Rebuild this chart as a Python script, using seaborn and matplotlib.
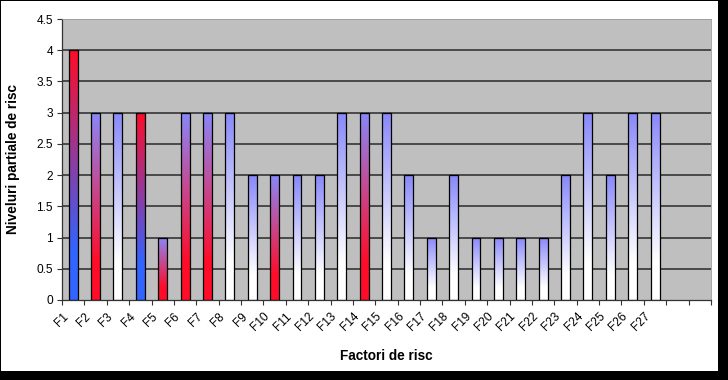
import numpy as np
import pandas as pd
import matplotlib
matplotlib.use("Agg")
import matplotlib.pyplot as plt
from matplotlib.patches import Rectangle
from matplotlib.transforms import ScaledTranslation
import seaborn as sns

# ---- data ----
factors = ["F%d" % i for i in range(1, 28)]
levels = [4, 3, 3, 3, 1, 3, 3, 3, 2, 2, 2, 2, 3, 3, 3, 2, 1, 2, 1, 1, 1, 1, 2, 3, 2, 3, 3]
# gradient style per factor: rb = red->blue, lr = lavender->red, lw = lavender->white
fills = ["rb", "lr", "lw", "rb", "lr", "lr", "lr", "lw", "lw", "lr", "lw", "lw", "lw", "lr",
         "lw", "lw", "lw", "lw", "lw", "lw", "lw", "lw", "lw", "lw", "lw", "lw", "lw"]
yticks = [0, 0.5, 1, 1.5, 2, 2.5, 3, 3.5, 4, 4.5]
ytick_labels = ["0", "0.5", "1", "1.5", "2", "2.5", "3", "3.5", "4", "4.5"]
xlabel = "Factori de risc"
ylabel = "Niveluri partiale de risc"

df = pd.DataFrame({"factor": factors, "level": levels})

sns.set_theme(style="white")
plt.rcParams["font.family"] = ["Liberation Sans", "DejaVu Sans"]

W, H = 728, 380
fig = plt.figure(figsize=(W / 100, H / 100), dpi=100)
fig.patch.set_facecolor("black")
bg = Rectangle((1 / W, 1 - 371 / H), 717 / W, 370 / H,
               transform=fig.transFigure, facecolor="white",
               edgecolor="none", zorder=-10)
fig.add_artist(bg)

ax = fig.add_axes([62 / W, 1 - 300 / H, (711 - 62) / W, (300 - 19) / H])
ax.set_zorder(1)
ax.set_facecolor("#BFBFBF")

sns.barplot(data=df, x="factor", y="level", ax=ax, width=0.4, color="white",
            edgecolor="black", linewidth=0.9, zorder=3)

C = {
    "red": np.array([255, 12, 40]) / 255,
    "blue": np.array([50, 100, 255]) / 255,
    "lav": np.array([136, 136, 250]) / 255,
    "white": np.array([255, 255, 255]) / 255,
}
pairs = {"rb": ("red", "blue"), "lr": ("lav", "red"), "lw": ("lav", "white")}

for patch, style in zip(ax.patches, fills):
    x0, y0 = patch.get_x(), patch.get_y()
    w, h = patch.get_width(), patch.get_height()
    top, bot = pairs[style]
    t = np.linspace(0, 1, 200)[:, None]
    f = np.clip(t / 0.8, 0, 1)
    col = C[top][None, :] * (1 - f) + C[bot][None, :] * f
    img = col[:, None, :]
    im = ax.imshow(img, extent=[x0, x0 + w, y0, y0 + h], origin="upper",
                   aspect="auto", zorder=2, interpolation="bilinear")
    im.set_clip_path(patch)
    patch.set_facecolor("none")

# horizontal gridlines
for yv in yticks[1:-1]:
    ax.axhline(yv, color="#2a2a2a", lw=1.1, zorder=1)

n_slots = 29
ax.set_xlim(-0.5, n_slots - 0.5)
ax.set_ylim(0, 4.5)
ax.set_yticks(yticks)
ax.set_yticklabels(ytick_labels, fontsize=8.6, color="black")

bounds = np.arange(n_slots + 1) - 0.5
blabels = factors + [""] * (len(bounds) - len(factors))
ax.set_xticks(bounds)
ax.set_xticklabels(blabels, fontsize=8.6, rotation=45, ha="right", va="top",
                   rotation_mode="anchor", color="black")
shift = ScaledTranslation(2 / 100, -4 / 100, fig.dpi_scale_trans)
for lab in ax.get_xticklabels():
    lab.set_transform(lab.get_transform() + shift)
ax.tick_params(axis="both", which="both", direction="out", length=3.5, width=0.8,
               color="#333333", left=True, bottom=True, pad=3)
ax.tick_params(axis="x", pad=4)

for s in ["top", "right"]:
    ax.spines[s].set_visible(True)
    ax.spines[s].set_color("#9a9a9a")
    ax.spines[s].set_linewidth(0.6)
for s in ["left", "bottom"]:
    ax.spines[s].set_color("#333333")
    ax.spines[s].set_linewidth(0.9)

ax.set_xlabel(xlabel, fontsize=9.8, fontweight="bold", color="black", labelpad=4)
ax.set_ylabel(ylabel, fontsize=9.8, fontweight="bold", color="black", labelpad=8)
ax.xaxis.set_label_coords(0.5, -0.175)
ax.yaxis.set_label_coords(-0.065, 0.5)

fig.savefig("out.png", dpi=100, facecolor=fig.get_facecolor())
